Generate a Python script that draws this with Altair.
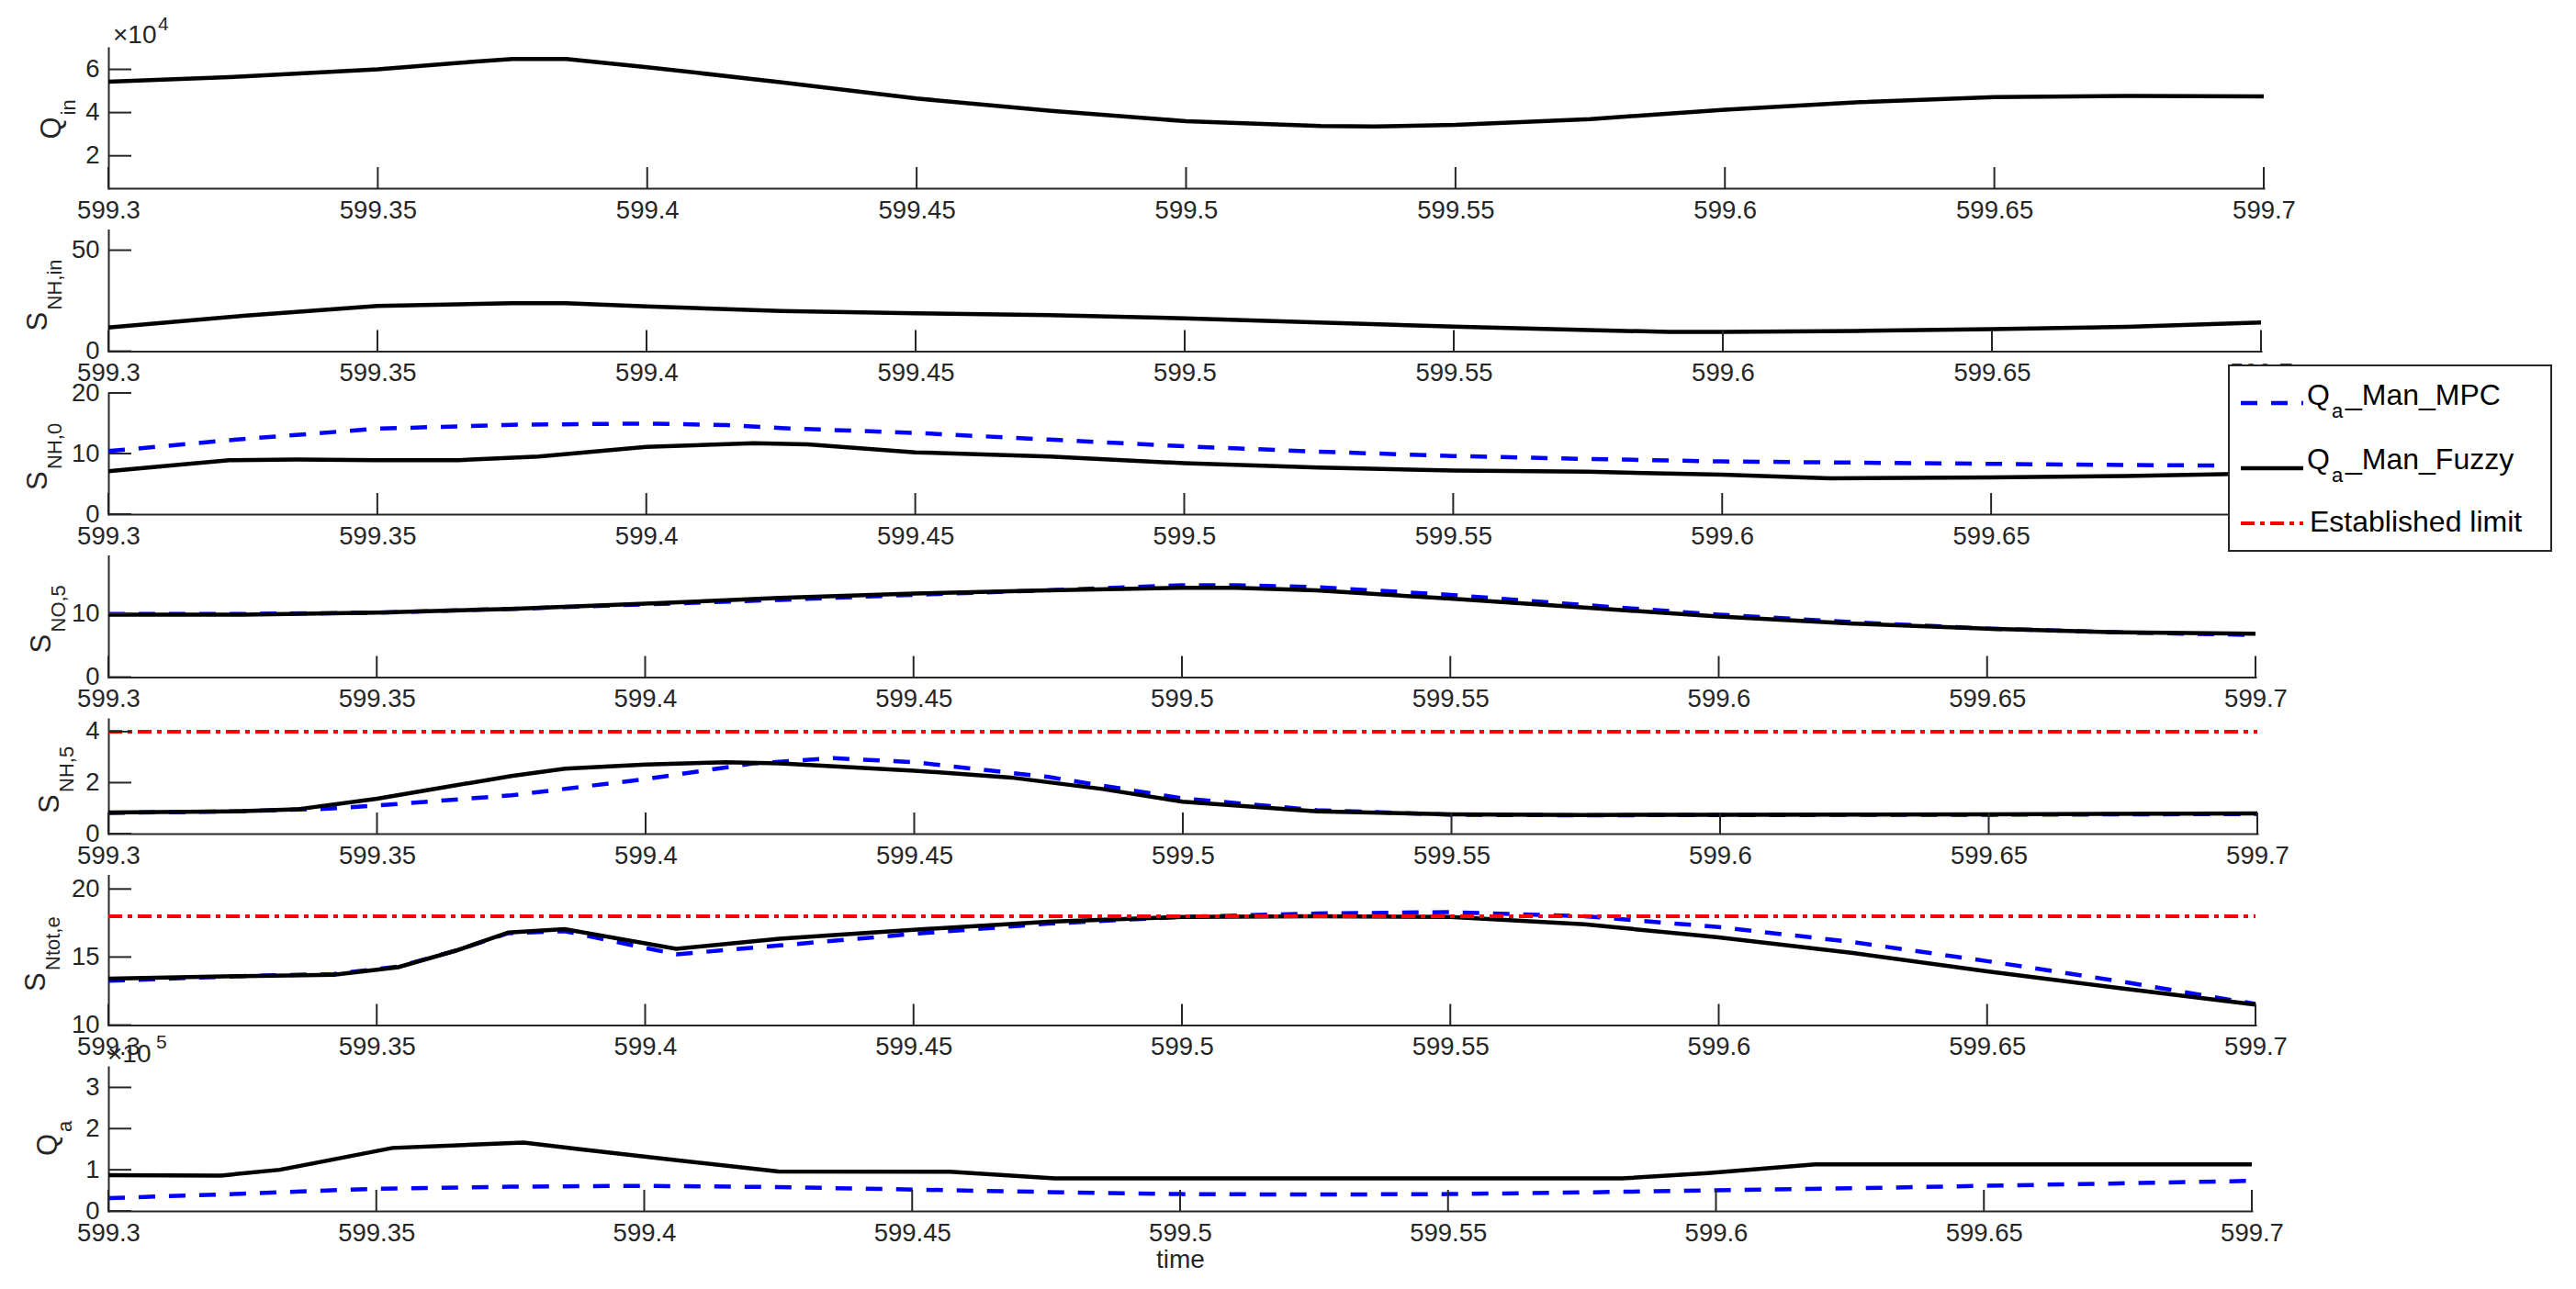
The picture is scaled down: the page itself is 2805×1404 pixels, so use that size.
import altair as alt
import pandas as pd

FONT = "Liberation Sans"
AX = "#262626"
BLUE = "#0000ff"
BLACK = "#000000"
RED = "#ff0000"

# ---------------- data ----------------
x_ticks = [599.3, 599.35, 599.4, 599.45, 599.5, 599.55, 599.6, 599.65, 599.7]

# Q_in (x 10^4)
qin_t = [599.300, 599.325, 599.350, 599.365, 599.375, 599.385, 599.400, 599.425, 599.450, 599.475,
         599.500, 599.525, 599.535, 599.550, 599.575, 599.600, 599.625, 599.650, 599.675, 599.700]
qin_v = [5.43, 5.67, 6.00, 6.30, 6.48, 6.48, 6.10, 5.40, 4.65, 4.08,
         3.60, 3.38, 3.36, 3.43, 3.70, 4.13, 4.48, 4.72, 4.77, 4.75]

# S_NH,in
snhin_t = [599.300, 599.325, 599.350, 599.375, 599.385, 599.400, 599.425, 599.450, 599.475, 599.500,
           599.525, 599.550, 599.575, 599.590, 599.600, 599.625, 599.650, 599.675, 599.700]
snhin_v = [11.7, 17.5, 22.4, 23.8, 23.7, 22.2, 19.9, 18.8, 17.8, 16.3,
           14.2, 12.2, 10.5, 9.5, 9.6, 10.0, 10.9, 12.0, 14.2]

# S_NH,0
snh0_mpc_t = [599.300, 599.325, 599.350, 599.375, 599.400, 599.415, 599.425, 599.450, 599.475,
              599.500, 599.525, 599.550, 599.575, 599.600, 599.625, 599.650, 599.675, 599.700]
snh0_mpc_v = [10.4, 12.4, 14.1, 14.75, 14.95, 14.7, 14.2, 13.4, 12.3,
              11.2, 10.3, 9.6, 9.1, 8.7, 8.5, 8.3, 8.1, 8.0]
snh0_fuz_t = [599.300, 599.3225, 599.335, 599.350, 599.365, 599.380, 599.400, 599.420, 599.430, 599.450,
              599.475, 599.500, 599.525, 599.550, 599.575, 599.600, 599.620, 599.650, 599.675, 599.700]
snh0_fuz_v = [7.1, 8.9, 9.0, 8.9, 8.9, 9.5, 11.1, 11.7, 11.5, 10.2,
              9.5, 8.4, 7.7, 7.2, 7.0, 6.5, 5.9, 6.05, 6.3, 6.7]

# S_NO,5
sno5_t = [599.300, 599.325, 599.350, 599.375, 599.400, 599.425, 599.450, 599.475, 599.500, 599.510,
          599.525, 599.550, 599.575, 599.600, 599.625, 599.650, 599.675, 599.700]
sno5_mpc_v = [9.9, 9.9, 10.1, 10.7, 11.4, 12.1, 12.9, 13.6, 14.4, 14.4,
              14.1, 12.9, 11.3, 9.8, 8.6, 7.6, 7.0, 6.6]
sno5_fuz_v = [9.8, 9.8, 10.1, 10.7, 11.5, 12.4, 13.1, 13.6, 14.0, 14.0,
              13.6, 12.3, 10.9, 9.5, 8.4, 7.6, 7.0, 6.8]

# S_NH,5
snh5_mpc_t = [599.300, 599.325, 599.340, 599.350, 599.375, 599.400, 599.420, 599.435, 599.450,
              599.475, 599.500, 599.525, 599.550, 599.575, 599.600, 599.650, 599.700]
snh5_mpc_v = [0.81, 0.88, 0.97, 1.10, 1.50, 2.14, 2.75, 2.96, 2.80,
              2.22, 1.38, 0.92, 0.74, 0.72, 0.73, 0.74, 0.77]
snh5_fuz_t = [599.300, 599.325, 599.335, 599.350, 599.362, 599.375, 599.385, 599.400, 599.415, 599.425,
              599.450, 599.468, 599.485, 599.500, 599.525, 599.550, 599.575, 599.600, 599.650, 599.700]
snh5_fuz_v = [0.83, 0.88, 0.95, 1.37, 1.80, 2.26, 2.55, 2.71, 2.80, 2.75,
              2.47, 2.20, 1.75, 1.25, 0.87, 0.76, 0.73, 0.74, 0.76, 0.79]
snh5_limit = 4

# S_Ntot,e
sntot_t = [599.300, 599.325, 599.342, 599.354, 599.365, 599.3745, 599.385, 599.4058, 599.425, 599.450,
           599.475, 599.500, 599.525, 599.550, 599.575, 599.600, 599.625, 599.650, 599.675, 599.700]
sntot_mpc_v = [13.25, 13.6, 13.75, 14.3, 15.5, 16.75, 16.9, 15.2, 15.85, 16.7,
               17.45, 17.95, 18.2, 18.3, 18.0, 17.2, 16.1, 14.7, 13.2, 11.55]
sntot_fuz_v = [13.4, 13.6, 13.7, 14.25, 15.5, 16.8, 17.05, 15.6, 16.35, 17.0,
               17.6, 17.95, 18.0, 17.95, 17.4, 16.45, 15.3, 13.95, 12.7, 11.5]
sntot_limit = 18

# Q_a (x 10^5)
qa_mpc_t = [599.300, 599.325, 599.350, 599.375, 599.400, 599.425, 599.450, 599.475, 599.500,
            599.525, 599.550, 599.575, 599.600, 599.625, 599.650, 599.675, 599.700]
qa_mpc_v = [0.31, 0.42, 0.54, 0.59, 0.61, 0.58, 0.52, 0.46, 0.41,
            0.40, 0.41, 0.45, 0.50, 0.55, 0.61, 0.67, 0.73]
qa_fuz_t = [599.300, 599.321, 599.332, 599.353, 599.3775, 599.388, 599.400, 599.425, 599.457,
            599.4766, 599.5825, 599.5985, 599.6185, 599.700]
qa_fuz_v = [0.87, 0.86, 1.00, 1.53, 1.66, 1.50, 1.32, 0.96, 0.955,
            0.79, 0.79, 0.92, 1.13, 1.13]

legend_labels = ["Q", "a", "_Man_MPC", "Q", "a", "_Man_Fuzzy", "Established limit"]

# ---------------- helpers ----------------
one = pd.DataFrame({"k": [0]})
XDOM = [599.3, 599.7]
LBL = 27.5


def sdf(t, v):
    return pd.DataFrame({"t": t, "v": v})


def txt(x, y, s, size, color=AX, angle=None, dx=0, dy=0):
    kw = dict(align="left", baseline="alphabetic", font=FONT, fontSize=size, color=color)
    if angle is not None:
        kw["angle"] = angle
    if dx:
        kw["dx"] = dx
    if dy:
        kw["dy"] = dy
    return alt.Chart(one).mark_text(**kw).encode(
        x=alt.value(x), y=alt.value(y), text=alt.value(s))


def panel(h, w, ydom, yticks, series, main, sub, sub_dx, title_x, title_off,
          limit=None, mult=None, time_title=False, legend=False, anchor=False):
    xs = alt.Scale(domain=XDOM, nice=False, zero=False)
    ys = alt.Scale(domain=ydom, nice=False, zero=False)
    xaxis = alt.Axis(values=x_ticks, labelExpr="format(datum.value, '.2~f')", ticks=False,
                     grid=False, domainColor=AX, domainWidth=2, domainCap="square",
                     labelColor=AX, labelFont=FONT, labelFontSize=LBL, labelPadding=10,
                     labelFlush=False, labelOverlap=False, titleFont=FONT, titleFontSize=28,
                     titleFontWeight="normal", titleColor=AX, titlePadding=2)
    yaxis = alt.Axis(values=yticks, format="d", ticks=False, grid=False, domainColor=AX,
                     domainWidth=2, domainCap="square", labelColor=AX, labelFont=FONT,
                     labelFontSize=LBL, labelPadding=10, labelOverlap=False)
    xt = "time" if time_title else None

    def X():
        return alt.X("t:Q", scale=xs, axis=xaxis, title=xt)

    def Y():
        return alt.Y("v:Q", scale=ys, axis=yaxis, title=None)

    layers = []
    for df, color, dash in series:
        mk = dict(color=color, strokeWidth=4.5)
        if dash:
            mk["strokeDash"] = dash
        layers.append(alt.Chart(df).mark_line(**mk).encode(x=X(), y=Y()))
    if limit is not None:
        ldf = pd.DataFrame({"t": XDOM, "v": [limit, limit]})
        layers.append(alt.Chart(ldf).mark_line(color=RED, strokeWidth=4, strokeDash=[15, 6, 5, 6]).encode(
            x=X(), y=Y()))
    # inward tick marks
    layers.append(alt.Chart(pd.DataFrame({"t": x_ticks})).mark_rule(color=AX, strokeWidth=2).encode(
        x=X(), y=alt.value(h), y2=alt.value(h - 23)))
    layers.append(alt.Chart(pd.DataFrame({"v": yticks})).mark_rule(color=AX, strokeWidth=2).encode(
        y=Y(), x=alt.value(0), x2=alt.value(25)))
    # y label with subscript
    ty = h / 2 + title_off
    layers.append(txt(title_x, ty, main, 31, angle=270))
    layers.append(txt(title_x, ty, sub, 22, angle=270, dx=sub_dx, dy=16))
    if mult is not None:
        mx, sx, sy, exp = mult
        layers.append(txt(mx, -5, "\u00d710", 28))
        layers.append(txt(sx, sy, exp, 21))
    if legend:
        layers.append(alt.Chart(one).mark_rect(fill="white", stroke=AX, strokeWidth=2).encode(
            x=alt.value(2309), x2=alt.value(2660), y=alt.value(-30), y2=alt.value(172)))
        layers.append(alt.Chart(one).mark_rule(color=BLUE, strokeWidth=4.5, strokeDash=[18, 15]).encode(
            x=alt.value(2322), x2=alt.value(2390), y=alt.value(11)))
        layers.append(alt.Chart(one).mark_rule(color=BLACK, strokeWidth=4.5).encode(
            x=alt.value(2322), x2=alt.value(2390), y=alt.value(82)))
        layers.append(alt.Chart(one).mark_rule(color=RED, strokeWidth=4, strokeDash=[15, 6, 5, 6]).encode(
            x=alt.value(2322), x2=alt.value(2390), y=alt.value(142)))
        layers.append(txt(2394, 13, legend_labels[0], 32, color=BLACK))
        layers.append(txt(2421, 27, legend_labels[1], 22, color=BLACK))
        layers.append(txt(2436, 13, legend_labels[2], 32, color=BLACK))
        layers.append(txt(2394, 83, legend_labels[3], 32, color=BLACK))
        layers.append(txt(2421, 97, legend_labels[4], 22, color=BLACK))
        layers.append(txt(2436, 83, legend_labels[5], 32, color=BLACK))
        layers.append(txt(2397, 151, legend_labels[6], 32, color=BLACK))
    if anchor:
        layers.append(alt.Chart(one).mark_rule(color="white", strokeWidth=1).encode(
            x=alt.value(-109.5), y=alt.value(-43.5), y2=alt.value(-42.5)))
    return alt.layer(*layers).properties(width=w, height=h)


blue = (BLUE, [18, 15])
black = (BLACK, None)

p1 = panel(153, 2347, [0.5, 7], [2, 4, 6], [(sdf(qin_t, qin_v), *black)],
           "Q", "in", 26, -52, 23, mult=(5, 54, -19, "4"), anchor=True)
p2 = panel(132, 2344, [0, 60], [0, 50], [(sdf(snhin_t, snhin_v), *black)],
           "S", "NH,in", 23, -67, 44)
p3 = panel(132, 2343, [0, 20], [0, 10, 20],
           [(sdf(snh0_mpc_t, snh0_mpc_v), *blue), (sdf(snh0_fuz_t, snh0_fuz_v), *black)],
           "S", "NH,0", 23, -67.5, 40, legend=True)
p4 = panel(132, 2338, [0, 19], [0, 10],
           [(sdf(sno5_t, sno5_mpc_v), *blue), (sdf(sno5_t, sno5_fuz_v), *black)],
           "S", "NO,5", 23, -63.5, 40)
p5 = panel(125, 2340, [0, 4.5], [0, 2, 4],
           [(sdf(snh5_mpc_t, snh5_mpc_v), *blue), (sdf(snh5_fuz_t, snh5_fuz_v), *black)],
           "S", "NH,5", 23, -54, 40.5, limit=snh5_limit)
p6 = panel(163, 2338, [10, 21], [10, 15, 20],
           [(sdf(sntot_t, sntot_mpc_v), *blue), (sdf(sntot_t, sntot_fuz_v), *black)],
           "S", "Ntot,e", 23, -69, 45, limit=sntot_limit)
p7 = panel(157, 2334, [0, 3.5], [0, 1, 2, 3],
           [(sdf(qa_mpc_t, qa_mpc_v), *blue), (sdf(qa_fuz_t, qa_fuz_v), *black)],
           "Q", "a", 26, -56, 18.5, mult=(-1, 52, -20, "5"), time_title=True)

chart = alt.vconcat(p1, p2, p3, p4, p5, p6, p7, spacing=45.5, bounds="flush").properties(
    padding={"left": 0, "top": 0, "right": 5, "bottom": 0}
).configure(font=FONT, background="white").configure_view(stroke=None)

chart.save("out.html", embed_options={"renderer": "svg", "actions": False})
